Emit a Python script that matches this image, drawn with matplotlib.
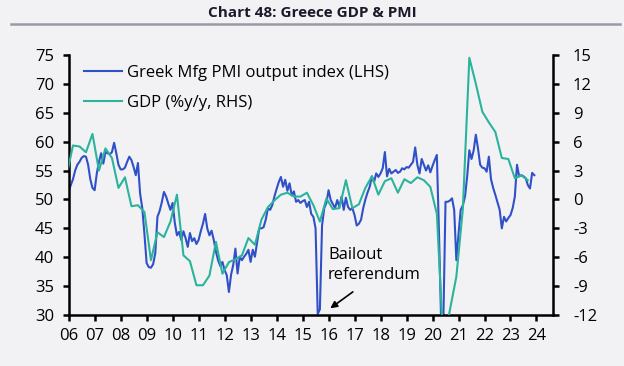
import numpy as np
import pandas as pd
import matplotlib
matplotlib.use("Agg")
import matplotlib.pyplot as plt
from matplotlib.lines import Line2D

# Greek manufacturing PMI output index, monthly from Jan 2006
pmi_2006 = [51.5, 52.5, 53.5, 55.0, 56.0, 56.5, 57.2, 57.5, 57.4, 56.0, 53.5, 52.0]
pmi_2007 = [51.6, 54.5, 56.5, 58.0, 56.2, 58.2, 58.0, 57.8, 58.2, 59.8, 58.0, 56.0]
pmi_2008 = [55.2, 55.2, 55.5, 56.5, 57.4, 56.8, 55.6, 54.2, 56.3, 51.0, 48.5, 44.0]
pmi_2009 = [39.0, 38.3, 38.2, 38.8, 40.7, 47.0, 48.0, 49.5, 51.3, 50.5, 49.3, 48.2]
pmi_2010 = [49.4, 46.0, 43.8, 44.4, 43.0, 44.5, 43.3, 41.8, 44.2, 42.8, 43.3, 42.3]
pmi_2011 = [43.0, 44.5, 45.8, 47.5, 45.0, 43.8, 44.6, 43.0, 41.0, 39.5, 38.5, 39.2]
pmi_2012 = [37.8, 36.9, 34.0, 37.0, 38.7, 41.5, 37.2, 40.1, 39.5, 40.1, 40.6, 41.3]
pmi_2013 = [39.2, 41.3, 40.1, 42.5, 45.0, 45.0, 45.2, 46.5, 48.5, 48.2, 49.0, 50.5]
pmi_2014 = [51.8, 53.0, 53.9, 52.2, 53.4, 51.5, 52.8, 50.7, 51.4, 49.6, 49.9, 49.4]
pmi_2015 = [49.7, 49.9, 48.7, 49.6, 47.5, 47.0, 45.0, 30.2, 31.0, 45.5, 48.5, 49.4]
pmi_2016 = [51.6, 49.9, 49.2, 48.5, 49.9, 48.7, 50.5, 48.2, 50.3, 48.7, 48.2, 48.5]
pmi_2017 = [47.3, 45.5, 45.8, 46.5, 48.5, 50.0, 51.2, 52.2, 54.0, 53.0, 54.5, 53.9]
pmi_2018 = [54.5, 55.4, 58.2, 54.0, 55.3, 54.5, 54.8, 55.1, 54.6, 54.8, 55.4, 55.2]
pmi_2019 = [55.6, 55.5, 56.0, 56.5, 59.0, 56.0, 54.5, 57.0, 56.0, 55.0, 55.9, 54.7]
pmi_2020 = [55.8, 56.8, 57.7, 44.0, 28.5, 29.0, 49.6, 49.6, 49.8, 50.2, 48.2, 39.5]
pmi_2021 = [44.0, 48.2, 49.0, 50.5, 54.0, 58.5, 57.0, 58.5, 61.2, 58.8, 56.0, 55.5]
pmi_2022 = [55.4, 54.8, 57.4, 53.5, 52.0, 50.8, 49.5, 48.2, 45.0, 47.0, 46.2, 46.8]
pmi_2023 = [47.3, 48.5, 50.5, 56.0, 54.0, 54.2, 54.0, 53.7, 52.5, 51.9, 54.6, 54.2]

# GDP %y/y, quarterly from Q4 2005
gdp = [2.4,
       5.6, 5.5, 4.9, 6.8,
       3.0, 5.3, 4.3, 1.2,
       2.3, -0.7, -0.6, -1.3,
       -6.3, -3.4, -3.9, -2.3,
       0.5, -5.8, -6.4, -8.9,
       -8.9, -7.9, -4.4, -7.7,
       -6.5, -6.2, -5.8, -4.0,
       -4.7, -2.1, -0.8, -0.1,
       0.5, 0.7, 0.3, 0.3,
       0.7, -0.6, -2.3, 0.1,
       -1.0, -0.9, 2.0, -0.9,
       -0.5, 1.2, 2.4, 0.5,
       1.9, 2.2, 0.7, 2.1,
       1.7, 2.3, 2.0, 1.3,
       -1.5, -15.0, -11.5, -8.0,
       -1.0, 14.7, 12.0, 9.1,
       8.0, 7.0, 4.3, 4.2,
       2.2, 2.5, 2.0]

years = list(range(2006, 2025))
year_labels = [f"{y % 100:02d}" for y in years]

pmi = (pmi_2006 + pmi_2007 + pmi_2008 + pmi_2009 + pmi_2010 + pmi_2011
       + pmi_2012 + pmi_2013 + pmi_2014 + pmi_2015 + pmi_2016 + pmi_2017
       + pmi_2018 + pmi_2019 + pmi_2020 + pmi_2021 + pmi_2022 + pmi_2023)

pmi_dates = pd.date_range("2006-01-01", periods=len(pmi), freq="MS")
pmi_x = pmi_dates.year + (pmi_dates.month - 1) / 12
gdp_dates = pd.date_range("2005-12-01", periods=len(gdp), freq="3MS")
gdp_x = gdp_dates.year + (gdp_dates.month - 1) / 12

BG = "#f2f2f4"
BLUE = "#3050c8"
TEAL = "#2bb39c"
FS = 12

plt.rcParams["font.family"] = ["Open Sans", "DejaVu Sans"]
plt.rcParams["axes.unicode_minus"] = False

fig = plt.figure(figsize=(6.24, 3.66), dpi=100, facecolor=BG)
ax = fig.add_axes([0.110, 0.139, 0.776, 0.711])
ax.set_facecolor(BG)
ax2 = ax.twinx()

ax.plot(pmi_x, pmi, color=BLUE, lw=1.5)
ax2.plot(gdp_x, gdp, color=TEAL, lw=1.5)

ax.set_xlim(2006, 2024.63)
ax.set_ylim(30, 75)
ax2.set_ylim(-12, 15)
ax.set_xticks(years)
ax.set_xticklabels(year_labels)
ax.set_yticks(np.arange(30, 76, 5))
ax2.set_yticks(np.arange(-12, 16, 3))

for s in ["top", "right"]:
    ax.spines[s].set_visible(False)
for s in ["top", "left", "bottom"]:
    ax2.spines[s].set_visible(False)
for sp in [ax.spines["left"], ax.spines["bottom"], ax2.spines["right"]]:
    sp.set_linewidth(1.8)
    sp.set_color("black")

ax.tick_params(axis="both", width=1.8, length=4.5, labelsize=FS, colors="black")
ax.tick_params(axis="x", pad=5)
ax.tick_params(axis="y", pad=6)
ax2.tick_params(axis="y", width=1.8, length=4.5, labelsize=FS, pad=10, colors="black")

handles = [Line2D([], [], color=BLUE, lw=1.5), Line2D([], [], color=TEAL, lw=1.5)]
ax2.legend(handles, ["Greek Mfg PMI output index (LHS)", "GDP (%y/y, RHS)"],
           loc="upper left", bbox_to_anchor=(0.0, 1.02), frameon=False,
           fontsize=FS, handlelength=2.3, handletextpad=0.3, labelspacing=0.85)

ax.annotate("Bailout\nreferendum", xy=(2015.98, 30.9), xytext=(2015.98, 35.6),
            fontsize=FS, ha="left", va="bottom", linespacing=1.3)
ax.annotate("", xy=(2015.98, 30.9), xytext=(2017.02, 34.3),
            arrowprops=dict(arrowstyle="-|>", color="black", lw=1.2, mutation_scale=10))

fig.text(0.5, 0.964, "Chart 48: Greece GDP & PMI", ha="center", va="center",
         fontsize=11, fontweight="bold", color="#1a1a2a")
fig.add_artist(Line2D([0.017, 0.994], [0.934, 0.934], color="#9a9aa4", lw=1.8))

fig.savefig("out.png", dpi=100, facecolor=BG)
